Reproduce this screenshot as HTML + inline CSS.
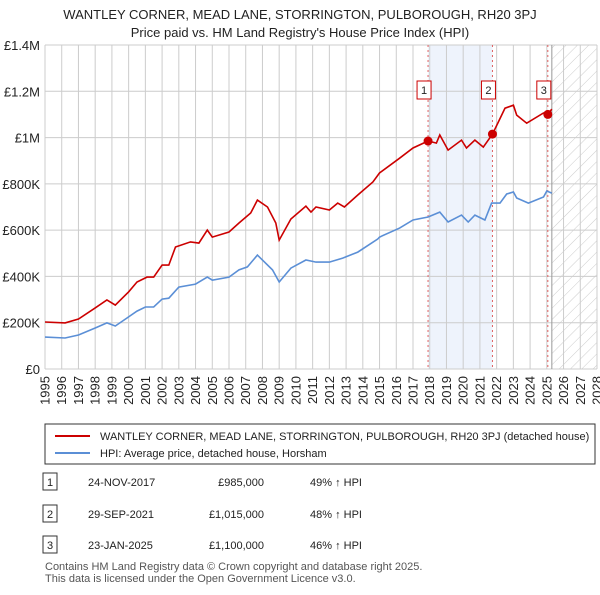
<!DOCTYPE html>
<html><head><meta charset="utf-8"><style>
body{margin:0;background:#fff;font-family:"Liberation Sans",sans-serif;}
svg text{font-family:"Liberation Sans",sans-serif;}
</style></head><body>
<svg id="c" width="600" height="590" xmlns="http://www.w3.org/2000/svg">
<defs><pattern id="h" width="8" height="8" patternUnits="userSpaceOnUse" patternTransform="rotate(45)"><line x1="0" y1="0" x2="0" y2="8" stroke="#ccc" stroke-width="1"/></pattern></defs>
<text x="300" y="19" text-anchor="middle" font-size="13" fill="#222">WANTLEY CORNER, MEAD LANE, STORRINGTON, PULBOROUGH, RH20 3PJ</text>
<text x="300" y="37" text-anchor="middle" font-size="13" fill="#222">Price paid vs. HM Land Registry's House Price Index (HPI)</text>
<g id="grid"></g><g id="marks"></g><g id="axes"></g>
<g>
<rect x="45" y="424" width="550" height="40" fill="#fff" stroke="#333"/>
<line x1="55" y1="436" x2="90" y2="436" stroke="#cc0000" stroke-width="2"/>
<text x="100" y="440" font-size="11" fill="#222">WANTLEY CORNER, MEAD LANE, STORRINGTON, PULBOROUGH, RH20 3PJ (detached house)</text>
<line x1="55" y1="453" x2="90" y2="453" stroke="#5b8fd6" stroke-width="2"/>
<text x="100" y="457" font-size="11" fill="#222">HPI: Average price, detached house, Horsham</text>
</g>
<g id="table" font-size="11" fill="#222"></g>
<text x="45" y="570" font-size="11" fill="#555">Contains HM Land Registry data © Crown copyright and database right 2025.</text>
<text x="45" y="582" font-size="11" fill="#555">This data is licensed under the Open Government Licence v3.0.</text>
</svg>
<script>
const hpiYears=[1995,1996.2,1997,1998,1998.7,1999.2,2000,2000.5,2001,2001.5,2002,2002.4,2003,2004,2004.7,2005,2006,2006.6,2007.1,2007.7,2008.6,2009,2009.7,2010.6,2011.2,2012,2012.8,2013.7,2014.9,2015,2016.2,2017,2017.9,2018.6,2019.1,2019.9,2020.3,2020.7,2021.3,2021.7,2022.2,2022.6,2023,2023.2,2023.9,2024.8,2025,2025.3];
const hpiValues=[138,134,147,177,199,186,225,250,268,268,302,306,354,367,397,384,397,428,441,492,428,376,436,471,462,462,479,505,562,570,609,644,657,678,635,665,635,665,644,717,717,756,765,739,717,743,769,760];
const priceYears=[1995,1996.2,1997,1998,1998.7,1999.2,2000,2000.5,2001.1,2001.5,2002,2002.4,2002.8,2003.7,2004.2,2004.7,2005,2006,2006.6,2007.3,2007.7,2008.3,2008.8,2009,2009.7,2010.6,2010.9,2011.2,2012,2012.5,2012.9,2013.7,2014.6,2015,2016.2,2017,2017.9,2018.4,2018.6,2019.1,2019.9,2020.2,2020.7,2021.2,2021.75,2022.1,2022.5,2023,2023.2,2023.8,2024.8,2025.06,2025.3];
const priceValues=[203,199,216,264,298,276,333,376,397,397,449,449,527,549,544,600,570,592,631,674,730,700,631,557,648,704,678,700,687,717,700,752,808,847,911,955,985,976,1011,946,989,955,989,959,1015,1067,1127,1140,1097,1062,1106,1100,1123];
const saleYears=[2017.9,2021.75,2025.06];
const saleValues=[985,1015,1100];
const saleLabels=["1","2","3"];
const saleDates=["24-NOV-2017","29-SEP-2021","23-JAN-2025"];
const salePrices=["£985,000","£1,015,000","£1,100,000"];
const saleHpi=["49% ↑ HPI","48% ↑ HPI","46% ↑ HPI"];
const yTicks=[0,200,400,600,800,1000,1200,1400];
const yTickLabels=["£0","£200K","£400K","£600K","£800K","£1M","£1.2M","£1.4M"];
const xTicks=[];for(let y=1995;y<=2028;y++)xTicks.push(y);
const NS="http://www.w3.org/2000/svg";
const X0=45,X1=597,Y0=369,Y1=45;
const sx=y=>X0+(y-1995)/(2028-1995)*(X1-X0);
const sy=v=>Y0-v/1400*(Y0-Y1);
function mk(p,t,a){const e=document.createElementNS(NS,t);for(const k in a)e.setAttribute(k,a[k]);p.appendChild(e);return e;}
const grid=document.getElementById('grid'),marks=document.getElementById('marks'),axes=document.getElementById('axes');
let r=mk(grid,'rect',{x:sx(saleYears[0]),y:Y1,width:sx(saleYears[1])-sx(saleYears[0]),height:Y0-Y1,fill:'#eef3fc'});


r=mk(grid,'rect',{x:sx(2025.3),y:Y1,width:X1-sx(2025.3),height:Y0-Y1,fill:'url(#h)'});


xTicks.forEach(t=>{const l=mk(grid,'line',{x1:sx(t),x2:sx(t),y1:Y1,y2:Y0,stroke:'#ccc'});


const x=sx(t)+4.5,y=Y0+7;
const tx=mk(axes,'text',{x:x,y:y,'text-anchor':'end','font-size':'13',fill:'#222',transform:'rotate(-90 '+x+' '+y+')'});tx.textContent=t;

});
yTicks.forEach((t,i)=>{const l=mk(grid,'line',{x1:X0,x2:X1,y1:sy(t),y2:sy(t),stroke:'#ccc'});


const tx=mk(axes,'text',{x:X0-5,y:sy(t)+5,'text-anchor':'end','font-size':'13',fill:'#222'});tx.textContent=yTickLabels[i];

});
let l=mk(grid,'line',{x1:sx(2025.3),x2:sx(2025.3),y1:Y1,y2:Y0,stroke:'#999'});


saleYears.forEach((s,i)=>{const d=mk(grid,'line',{x1:sx(s),x2:sx(s),y1:Y1,y2:Y0,stroke:'#e06060','stroke-dasharray':'2,3'});

});
function path(xs,vs,col,name){const p=mk(marks,'path',{d:xs.map((x,i)=>(i?'L':'M')+sx(x).toFixed(1)+','+sy(vs[i]).toFixed(1)).join(''),fill:'none',stroke:col,'stroke-width':'1.6'});

}
path(hpiYears,hpiValues,'#5b8fd6','hpi-line');
path(priceYears,priceValues,'#cc0000','price-line');
const tb=document.getElementById('table');
saleYears.forEach((s,i)=>{const c=mk(marks,'circle',{cx:sx(s),cy:sy(saleValues[i]),r:4.5,fill:'#cc0000'});


const bx=sx(s)-11,by=81;
const b=mk(marks,'rect',{x:bx,y:by,width:14,height:18,fill:'#fff',stroke:'#cc0000'});


const t=mk(marks,'text',{x:bx+7,y:by+13,'text-anchor':'middle','font-size':'11',fill:'#222'});t.textContent=saleLabels[i];


const ry=[482,514,545][i];
const tr=mk(tb,'rect',{x:43,y:ry-9,width:14,height:17,fill:'#fff',stroke:'#333'});


const vals=[[50,saleLabels[i],'middle'],[88,saleDates[i],'start'],[264,salePrices[i],'end'],[310,saleHpi[i],'start']];
vals.forEach(v=>{const tt=mk(tb,'text',{x:v[0],y:ry+4,'text-anchor':v[2]});tt.textContent=v[1];

});});
</script>
</body></html>
